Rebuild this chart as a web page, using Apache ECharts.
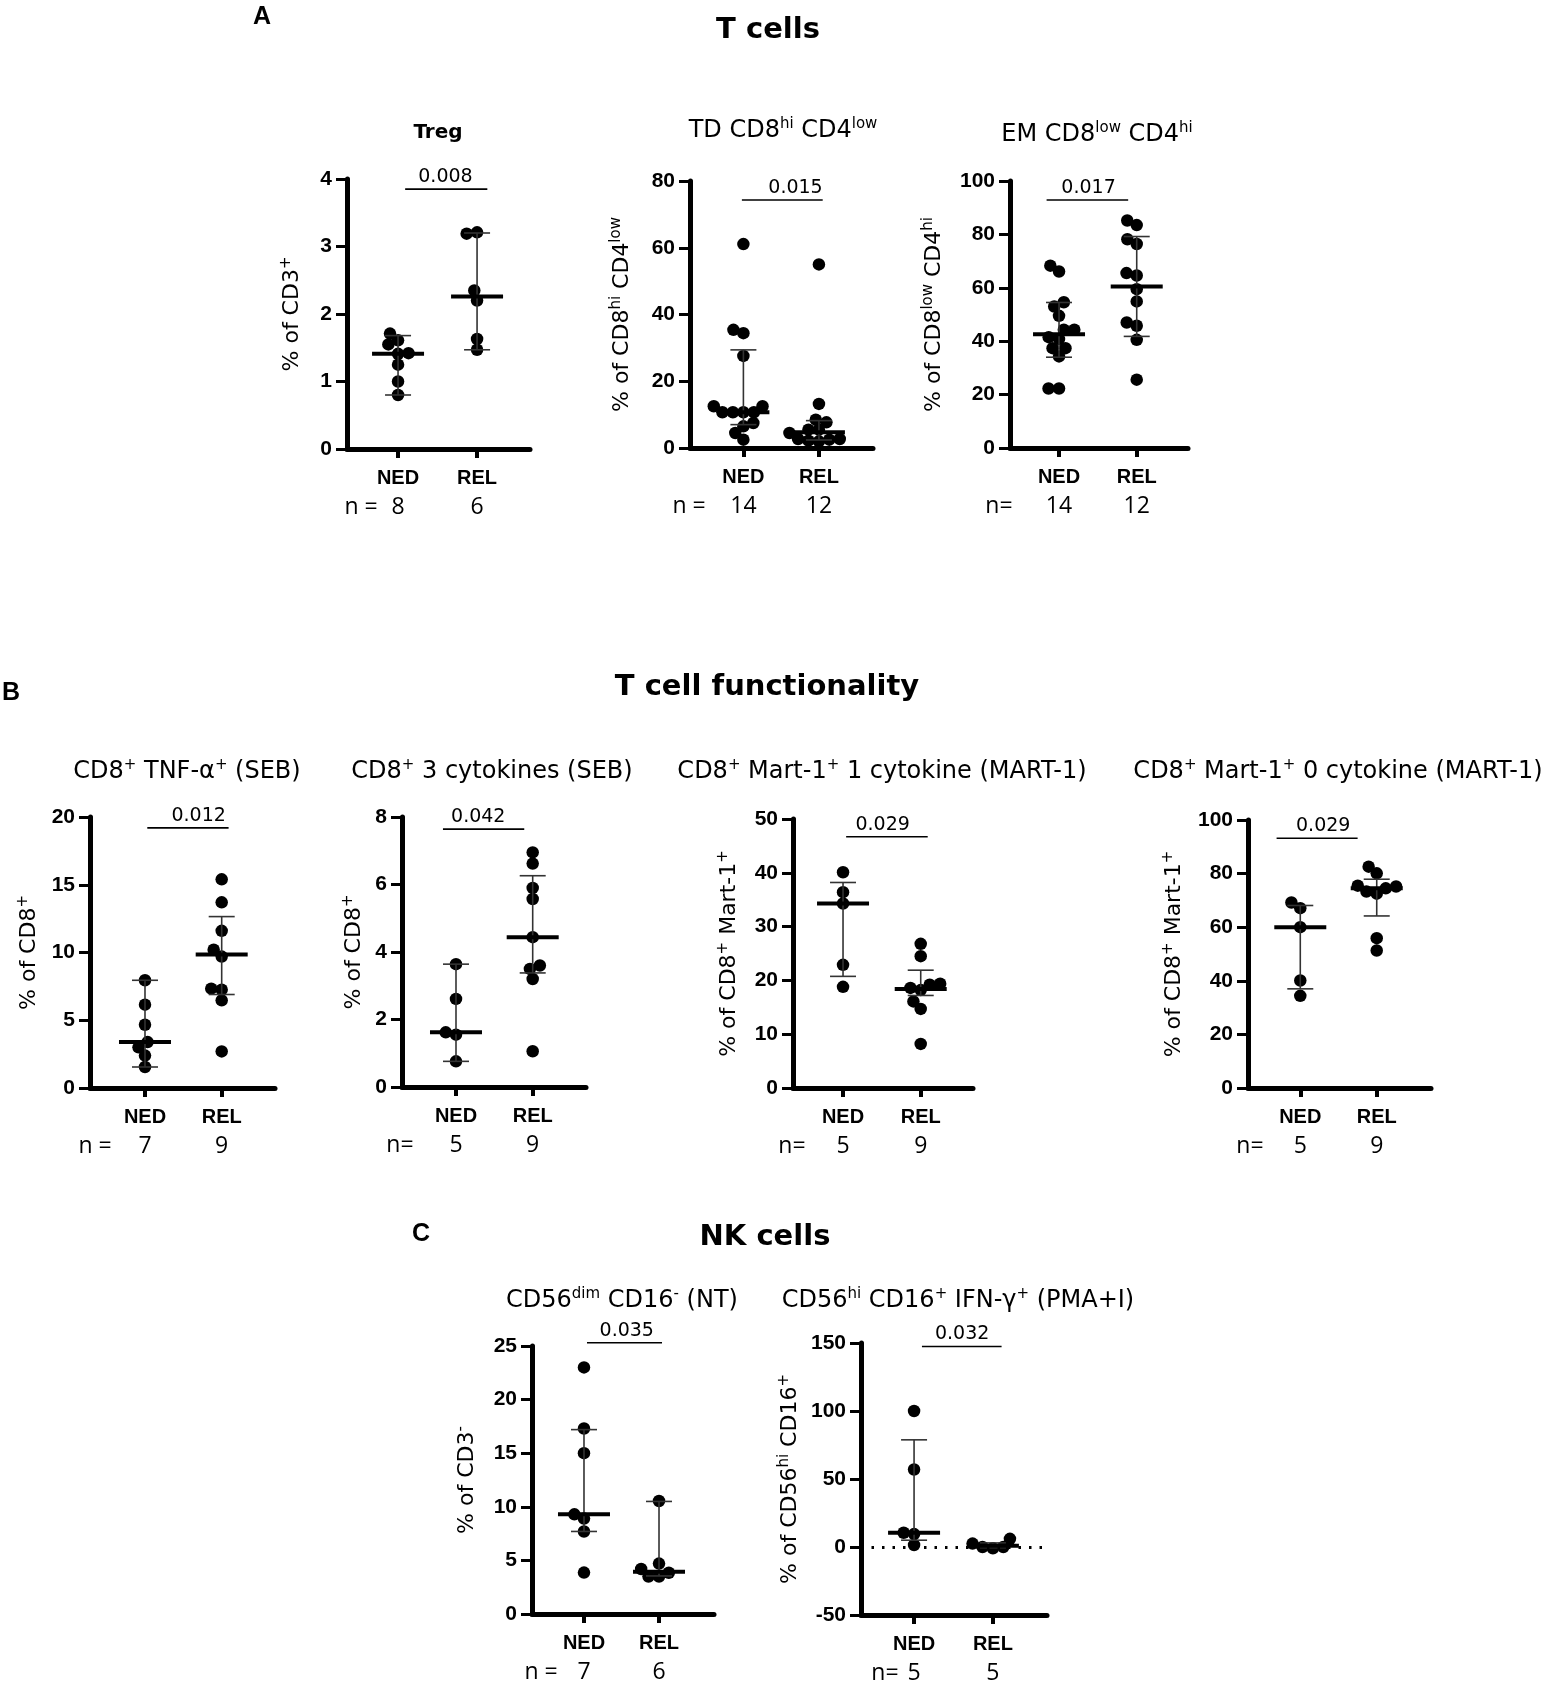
<!DOCTYPE html>
<html>
<head>
<meta charset="utf-8">
<script src="https://cdn.jsdelivr.net/npm/echarts@6/dist/echarts.min.js"></script>
<style>
  html, body { margin: 0; padding: 0; background: #fff; }
  #chartmain { width: 1552px; height: 1690px; }
</style>
</head>
<body>
<div id="chartmain"></div>
<script>
// groups on every x axis
var groups = ['NED', 'REL'];

// A - T cells
var tregNED = [0.8, 1.0, 1.25, 1.41, 1.61, 1.71, 1.55, 1.42];
var tregREL = [1.47, 1.63, 2.20, 2.35, 3.21, 3.19];
var tdNED = [2.5, 4.5, 6.5, 7.5, 10.7, 10.7, 10.7, 10.7, 12.5, 12.5, 27.6, 34.4, 35.4, 61.1];
var tdREL = [2.0, 2.2, 2.5, 2.7, 2.7, 4.5, 5.5, 5.5, 7.7, 8.5, 13.2, 55];
var emNED = [22.3, 22.3, 34.3, 37.4, 37.4, 40.8, 41.5, 44.3, 44.3, 49.5, 53.0, 54.6, 66.1, 68.3];
var emREL = [25.6, 40.5, 45.8, 47.0, 54.9, 59.5, 64.6, 65.5, 76.4, 78.2, 83.5, 85.2];

// B - T cell functionality
var tnfNED = [1.55, 2.39, 3.0, 3.39, 4.67, 6.15, 7.95];
var tnfREL = [2.7, 6.47, 7.26, 7.33, 9.7, 10.2, 11.6, 13.7, 15.4];
var cyt3NED = [0.76, 1.55, 1.62, 2.61, 3.64];
var cyt3REL = [1.06, 3.2, 3.5, 3.6, 4.44, 5.57, 5.9, 6.62, 6.95];
var mart1NED = [18.8, 22.9, 34.3, 36.4, 40.1];
var mart1REL = [8.2, 14.7, 16.1, 18.2, 18.6, 19.2, 19.4, 24.5, 26.8];
var mart0NED = [34.4, 40.1, 60.0, 67.1, 69.2];
var mart0REL = [51.3, 55.9, 72.5, 73.3, 74.5, 75.2, 75.5, 80.1, 82.6];

// C - NK cells
var dimNED = [3.86, 7.7, 8.9, 9.3, 15.0, 17.3, 23.0];
var dimREL = [3.5, 3.5, 3.85, 4.2, 4.7, 10.54];
var ifnNED = [1.5, 9.5, 10.5, 57, 100];
var ifnREL = [-1, 0, 0, 2.5, 6];

// median, lower bar, upper bar for NED and REL
var tregStats = [[1.41, 0.80, 1.68], [2.26, 1.47, 3.20]];
var tdStats = [[10.7, 7.0, 29.4], [4.7, 2.4, 8.2]];
var emStats = [[42.6, 34.0, 54.5], [60.5, 41.8, 79.2]];
var tnfStats = [[3.39, 1.55, 7.95], [9.85, 6.9, 12.65]];
var cyt3Stats = [[1.62, 0.76, 3.64], [4.44, 3.38, 6.26]];
var mart1Stats = [[34.3, 20.75, 38.2], [18.4, 17.2, 21.9]];
var mart0Stats = [[60.0, 37.0, 68.1], [74.5, 64.2, 77.9]];
var dimStats = [[9.3, 7.7, 17.2], [3.95, 3.55, 10.5]];
var ifnStats = [[10.5, 5.0, 78.8], [1.0, -0.5, 3.0]];

var pValues = ['0.008', '0.015', '0.017', '0.012', '0.042', '0.029', '0.029', '0.035', '0.032'];

// y axis ranges [min, max, step]
var yRanges = [[0, 4, 1], [0, 80, 20], [0, 100, 20], [0, 20, 5], [0, 8, 2],
               [0, 50, 10], [0, 100, 20], [0, 25, 5], [-50, 150, 50]];

var plotTitles = [
  '{b|Treg}',
  'TD CD8{s|hi} CD4{s|low}',
  'EM CD8{s|low} CD4{s|hi}',
  'CD8{s|+} TNF-α{s|+} (SEB)',
  'CD8{s|+} 3 cytokines (SEB)',
  'CD8{s|+} Mart-1{s|+} 1 cytokine (MART-1)',
  'CD8{s|+} Mart-1{s|+} 0 cytokine (MART-1)',
  'CD56{s|dim} CD16{s|-} (NT)',
  'CD56{s|hi} CD16{s|+} IFN-γ{s|+} (PMA+I)'
];
var yNames = [
  '% of CD3{s|+}',
  '% of CD8{s|hi} CD4{s|low}',
  '% of CD8{s|low} CD4{s|hi}',
  '% of CD8{s|+}',
  '% of CD8{s|+}',
  '% of CD8{s|+} Mart-1{s|+}',
  '% of CD8{s|+} Mart-1{s|+}',
  '% of CD3{s|-}',
  '% of CD56{s|hi} CD16{s|+}'
];
var nPrefix = ['n =', 'n =', 'n=', 'n =', 'n=', 'n=', 'n=', 'n =', 'n='];

var values = [
  [tregNED, tregREL], [tdNED, tdREL], [emNED, emREL],
  [tnfNED, tnfREL], [cyt3NED, cyt3REL], [mart1NED, mart1REL], [mart0NED, mart0REL],
  [dimNED, dimREL], [ifnNED, ifnREL]
];
var stats = [tregStats, tdStats, emStats, tnfStats, cyt3Stats, mart1Stats, mart0Stats, dimStats, ifnStats];

// layout of each small plot (pixels) and p-bar placement
var layout = [
  {l: 347, t: 179, w: 183, h: 270, x0: 0.354, x1: 2.67, gap: 42, tx: 438, ty: 133, px: 361, bar: [1.09, 2.13, 3.85], ptx: 1.60},
  {l: 690, t: 181, w: 183, h: 267, x0: 0.293, x1: 2.716, gap: 55, tx: 783, ty: 131, px: 689, bar: [0.98, 2.05, 74.3], ptx: 1.69},
  {l: 1010, t: 181, w: 178, h: 267, x0: 0.369, x1: 2.66, gap: 63, tx: 1097, ty: 135, px: 999, bar: [0.84, 1.89, 92.9], ptx: 1.38},
  {l: 90, t: 817, w: 185, h: 271, x0: 0.283, x1: 2.695, gap: 48, tx: 187, ty: 772, px: 95, bar: [1.03, 2.09, 19.2], ptx: 1.70},
  {l: 402, t: 817, w: 184, h: 270, x0: 0.296, x1: 2.695, gap: 35, tx: 492, ty: 772, px: 400, bar: [0.83, 1.89, 7.64], ptx: 1.29},
  {l: 793, t: 819, w: 180, h: 269, x0: 0.356, x1: 2.673, gap: 51, tx: 882, ty: 772, px: 792, bar: [1.04, 2.09, 46.7], ptx: 1.51},
  {l: 1248, t: 820, w: 183, h: 268, x0: 0.316, x1: 2.71, gap: 61, tx: 1338, ty: 772, px: 1250, bar: [0.69, 1.75, 93.2], ptx: 1.30},
  {l: 532, t: 1346, w: 182, h: 268, x0: 0.307, x1: 2.733, gap: 52, tx: 622, ty: 1301, px: 541, bar: [1.04, 2.04, 25.3], ptx: 1.57},
  {l: 861, t: 1343, w: 186, h: 272, x0: 0.327, x1: 2.686, gap: 58, tx: 958, ty: 1301, px: 885, bar: [1.10, 2.11, 147.4], ptx: 1.61, zero: true}
];

var WIDE = 'DejaVu Sans';
var ARIAL = 'Liberation Sans';
var DOT = 12.5;

// simple beeswarm: horizontal pixel offset for each value, in array order
function swarm(vals, pxPerUnit, d) {
  var placed = [];
  return vals.map(function (v) {
    var y = v * pxPerUnit;
    var cands = [0];
    placed.forEach(function (p) {
      var dy = Math.abs(p.y - y);
      if (dy < d) {
        var dx = Math.sqrt(d * d - dy * dy);
        cands.push(p.x - dx, p.x + dx);
      }
    });
    cands.sort(function (a, b) { return Math.abs(a) - Math.abs(b) || a - b; });
    var x = cands.find(function (c) {
      return placed.every(function (p) {
        return (p.x - c) * (p.x - c) + (p.y - y) * (p.y - y) >= d * d - 0.01;
      });
    });
    placed.push({x: x, y: y});
    return x;
  });
}

function renderStats(params, api) {
  var x = api.value(0);
  var c = api.coord([x, api.value(1)]);
  var lo = api.coord([x, api.value(2)]);
  var hi = api.coord([x, api.value(3)]);
  var thin = {stroke: '#333', lineWidth: 1.6};
  return {
    type: 'group',
    children: [
      {type: 'line', shape: {x1: c[0], y1: lo[1], x2: c[0], y2: hi[1]}, style: thin},
      {type: 'line', shape: {x1: c[0] - 13, y1: lo[1], x2: c[0] + 13, y2: lo[1]}, style: thin},
      {type: 'line', shape: {x1: c[0] - 13, y1: hi[1], x2: c[0] + 13, y2: hi[1]}, style: thin},
      {type: 'line', shape: {x1: c[0] - 26, y1: c[1], x2: c[0] + 26, y2: c[1]}, style: {stroke: '#000', lineWidth: 4}}
    ]
  };
}

function pBarRenderer(pText) {
  return function (params, api) {
    var a = api.coord([api.value(0), api.value(2)]);
    var b = api.coord([api.value(1), api.value(2)]);
    var t = api.coord([api.value(3), api.value(2)]);
    return {
      type: 'group',
      children: [
        {type: 'line', shape: {x1: a[0], y1: a[1], x2: b[0], y2: b[1]}, style: {stroke: '#000', lineWidth: 1.6}},
        {type: 'text', x: t[0], y: a[1] - 12, style: {text: pText, fontFamily: WIDE, fontSize: 19, fill: '#000', align: 'center', verticalAlign: 'middle'}}
      ]
    };
  };
}

var supRich = {
  s: {fontFamily: WIDE, fontSize: 15, lineHeight: 14, verticalAlign: 'top', fill: '#000', color: '#000'},
  b: {fontFamily: WIDE, fontSize: 20, fontWeight: 'bold', fill: '#000', color: '#000'}
};

var grids = [], xAxes = [], yAxes = [], series = [], graphics = [];

layout.forEach(function (L, i) {
  var yr = yRanges[i];
  var pxY = L.h / (yr[1] - yr[0]);
  var pxX = L.w / (L.x1 - L.x0);
  var counts = [values[i][0].length, values[i][1].length];

  grids.push({left: L.l, top: L.t, width: L.w, height: L.h, containLabel: false});

  xAxes.push({
    type: 'value', gridIndex: i, min: L.x0, max: L.x1,
    axisLine: {onZero: false, lineStyle: {color: '#000', width: 5}},
    axisTick: {show: true, customValues: [1, 2], length: 9, lineStyle: {color: '#000', width: 4}},
    splitLine: {show: false},
    axisLabel: {
      customValues: [1, 2], margin: 17,
      formatter: function (v) {
        var k = Math.round(v) - 1;
        return '{g|' + groups[k] + '}\n{n|' + counts[k] + '}';
      },
      rich: {
        g: {fontFamily: ARIAL, fontWeight: 'bold', fontSize: 20, lineHeight: 24, color: '#000'},
        n: {fontFamily: 'Open Sans', fontSize: 23, lineHeight: 34, color: '#000'}
      }
    }
  });

  yAxes.push({
    type: 'value', gridIndex: i, min: yr[0], max: yr[1], interval: yr[2],
    name: yNames[i], nameLocation: 'middle', nameGap: L.gap,
    nameTextStyle: {fontFamily: WIDE, fontSize: 22, lineHeight: 26, color: '#000', rich: supRich},
    axisLine: {show: true, onZero: false, lineStyle: {color: '#000', width: 5}},
    axisTick: {show: true, length: 11, lineStyle: {color: '#000', width: 3}},
    splitLine: {show: false},
    axisLabel: {margin: 15, fontFamily: ARIAL, fontWeight: 'bold', fontSize: 21, color: '#000'}
  });

  var pts = [];
  [0, 1].forEach(function (g) {
    var offs = swarm(values[i][g], pxY, 10.5);
    values[i][g].forEach(function (v, k) {
      pts.push([g + 1 + offs[k] / pxX, v]);
    });
  });

  var scatter = {
    type: 'scatter', xAxisIndex: i, yAxisIndex: i, data: pts,
    symbol: 'circle', symbolSize: DOT, itemStyle: {color: '#000', opacity: 1},
    silent: true, z: 2
  };
  if (L.zero) {
    scatter.markLine = {
      silent: true, symbol: 'none', label: {show: false},
      lineStyle: {color: '#000', type: [2.5, 8], width: 3, opacity: 1},
      data: [{yAxis: 0}]
    };
  }
  series.push(scatter);

  series.push({
    type: 'custom', xAxisIndex: i, yAxisIndex: i, renderItem: renderStats, clip: false, z: 3, silent: true,
    data: stats[i].map(function (s, g) { return [g + 1, s[0], s[1], s[2]]; })
  });

  series.push({
    type: 'custom', xAxisIndex: i, yAxisIndex: i, renderItem: pBarRenderer(pValues[i]), clip: false, z: 3, silent: true,
    data: [[L.bar[0], L.bar[1], L.bar[2], L.ptx]]
  });

  graphics.push({
    type: 'text', x: L.tx, y: L.ty,
    style: {text: plotTitles[i], rich: supRich, fontFamily: WIDE, fontSize: 24, lineHeight: 28, fill: '#000', align: 'center', verticalAlign: 'middle'}
  });
  graphics.push({
    type: 'text', x: L.px, y: L.t + L.h + 58,
    style: {text: nPrefix[i], fontFamily: 'Open Sans', fontSize: 23, fill: '#000', align: 'center', verticalAlign: 'middle'}
  });
});

// panel letters and headers
var headers = [
  {text: 'A', x: 262, y: 17, letter: true}, {text: 'T cells', x: 768, y: 30},
  {text: 'B', x: 11, y: 693, letter: true}, {text: 'T cell functionality', x: 767, y: 687},
  {text: 'C', x: 421, y: 1234, letter: true}, {text: 'NK cells', x: 765, y: 1237}
];
headers.forEach(function (h) {
  graphics.push({
    type: 'text', x: h.x, y: h.y,
    style: {
      text: h.text, fill: '#000', align: 'center', verticalAlign: 'middle', fontWeight: 'bold',
      fontFamily: h.letter ? ARIAL : WIDE, fontSize: h.letter ? 25 : 29
    }
  });
});

var myChart = echarts.init(document.getElementById('chartmain'));
myChart.setOption({
  backgroundColor: '#fff',
  animation: false,
  grid: grids,
  xAxis: xAxes,
  yAxis: yAxes,
  series: series,
  graphic: graphics
});
</script>
</body>
</html>
